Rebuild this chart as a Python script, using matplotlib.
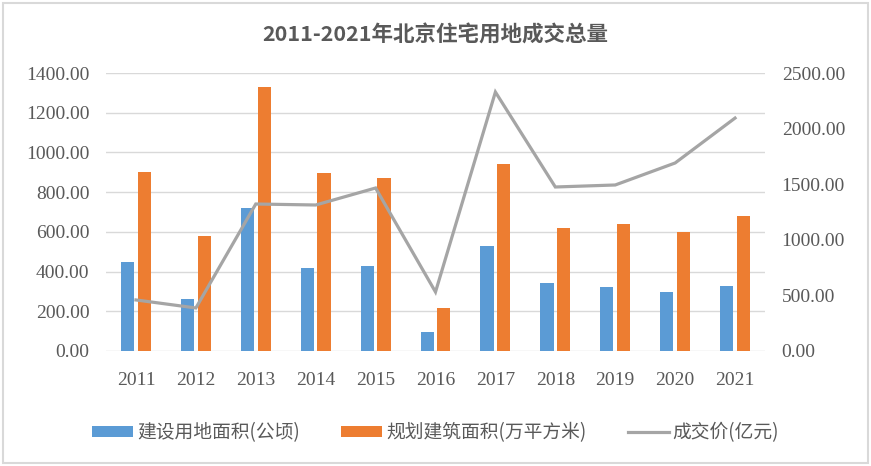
import numpy as np
import matplotlib
matplotlib.use('Agg')
import matplotlib.pyplot as plt
from matplotlib.patches import Rectangle

plt.rcParams['font.family'] = ['Noto Sans CJK SC', 'DejaVu Sans']

years = ['2011', '2012', '2013', '2014', '2015', '2016', '2017', '2018', '2019', '2020', '2021']
land_area = [450, 262, 720, 418, 428, 96, 529, 342, 322, 297, 327]
build_area = [901, 579, 1329, 896, 871, 216, 942, 619, 639, 599, 680]
deal_price = [459, 387, 1322, 1313, 1466, 531, 2329, 1475, 1493, 1691, 2095]

blue = '#5B9BD5'
orange = '#ED7D31'
gray = '#A5A5A5'
txt = '#595959'
num_font = 'Liberation Serif'

fig = plt.figure(figsize=(8.71, 4.66), dpi=100)
fig.patches.append(Rectangle((0.003, 0.006), 0.994, 0.988, transform=fig.transFigure,
                             fill=False, edgecolor='#D9D9D9', linewidth=1.5))

ax = fig.add_axes([0.1217, 0.2468, 0.7566, 0.5965])
ax2 = ax.twinx()

x = np.arange(len(years))
w = 0.22
b1 = ax.bar(x - 0.14, land_area, w, color=blue, label='建设用地面积(公顷)', zorder=3)
b2 = ax.bar(x + 0.14, build_area, w, color=orange, label='规划建筑面积(万平方米)', zorder=3)
l1, = ax2.plot(x, deal_price, color=gray, linewidth=2.3, label='成交价(亿元)',
               solid_joinstyle='miter')

ax.set_xlim(-0.5, len(years) - 0.5)
ax.set_ylim(0, 1400)
ax2.set_ylim(0, 2500)
ax.set_yticks(np.arange(0, 1401, 200))
ax2.set_yticks(np.arange(0, 2501, 500))
ax.set_yticklabels(['%.2f' % v for v in np.arange(0, 1401, 200)])
ax2.set_yticklabels(['%.2f' % v for v in np.arange(0, 2501, 500)])
ax.set_xticks(x)
ax.set_xticklabels(years)

ax.grid(axis='y', color='#D9D9D9', linewidth=1, zorder=0)
for a in (ax, ax2):
    for s in a.spines.values():
        s.set_visible(False)
    a.tick_params(length=0, colors=txt, labelsize=14)
    for lab in a.get_yticklabels() + a.get_xticklabels():
        lab.set_family(num_font)
ax.tick_params(axis='y', pad=12)
ax2.tick_params(axis='y', pad=12)
ax.tick_params(axis='x', pad=15)

fig.text(0.5, 0.925, '2011-2021年北京住宅用地成交总量', ha='center', va='center',
         fontsize=15.5, fontweight='bold', color=txt)

fig.legend([b1, b2, l1], [b1.get_label(), b2.get_label(), l1.get_label()],
           loc='center', bbox_to_anchor=(0.5, 0.071), ncol=3, frameon=False,
           fontsize=13.5, labelcolor=txt, handlelength=2.2, handleheight=0.55,
           columnspacing=2.2, handletextpad=0.2)

fig.savefig('out.png', dpi=100)
